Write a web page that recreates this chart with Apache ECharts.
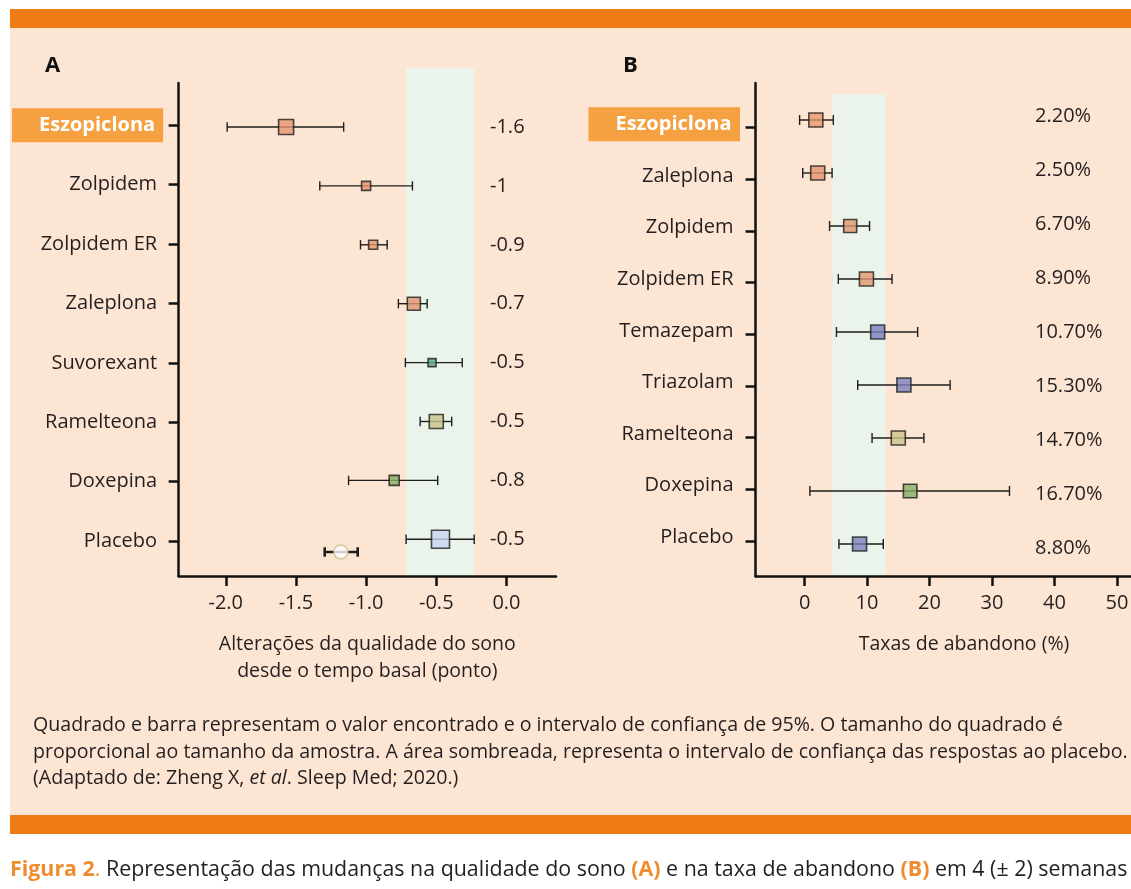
<!DOCTYPE html>
<html><head><meta charset="utf-8">
<script src="https://cdn.jsdelivr.net/npm/echarts@6/dist/echarts.min.js"></script>
<style>
html,body{margin:0;padding:0;background:#fff;overflow:hidden;width:1131px;height:889px}
.blk{position:absolute}
.txt{position:absolute;font-family:'Open Sans',sans-serif;color:#231F20;white-space:nowrap}
</style></head>
<body>
<div class="blk" style="left:10px;top:9px;width:1121px;height:19px;background:#EF7B17"></div>
<div class="blk" style="left:10px;top:28px;width:1121px;height:787px;background:#FDE5D3"></div>
<div class="blk" style="left:10px;top:815px;width:1121px;height:19px;background:#EF7B17"></div>
<div id="chart" style="position:absolute;left:0;top:0;width:1131px;height:889px"></div>
<div class="txt" style="left:33px;top:711px;font-size:19.6px;line-height:26.5px">Quadrado e barra representam o valor encontrado e o intervalo de confiança de 95%. O tamanho do quadrado é<br>proporcional ao tamanho da amostra. A área sombreada, representa o intervalo de confiança das respostas ao placebo.<br>(Adaptado de: Zheng X, <i>et al</i>. Sleep Med; 2020.)</div>
<div class="txt" style="left:10px;top:853px;width:1121px;overflow:hidden;font-size:21.4px;line-height:30px"><b style="color:#F08C2E">Figura 2</b><span style="color:#F08C2E">.</span> Representação das mudanças na qualidade do sono <b style="color:#F08C2E">(A)</b> e na taxa de abandono <b style="color:#F08C2E">(B)</b> em 4 (± 2) semanas</div>
<script>
// ---------- DATA ----------
// Panel A: changes in sleep quality from baseline (points)
const catsA = ['Eszopiclona','Zolpidem','Zolpidem ER','Zaleplona','Suvorexant','Ramelteona','Doxepina','Placebo'];
const estA = [-1.57, -1.00, -0.95, -0.66, -0.53, -0.50, -0.80, -0.47];
const loA  = [-1.99, -1.33, -1.04, -0.77, -0.72, -0.615, -1.125, -0.715];
const hiA  = [-1.16, -0.67, -0.85, -0.565, -0.315, -0.39, -0.49, -0.23];
const sampleSizeA = [15, 9, 9, 13, 8, 14, 10, 18];
const valueLabelsA = ['-1.6','-1','-0.9','-0.7','-0.5','-0.5','-0.8','-0.5'];
const placeboBasalA = [-1.18, -1.295, -1.06]; // estimate, low, high
const bandA = [-0.715, -0.23];
const xTicksA = [-2.0, -1.5, -1.0, -0.5, 0.0];

// Panel B: dropout rates (%)
const catsB = ['Eszopiclona','Zaleplona','Zolpidem','Zolpidem ER','Temazepam','Triazolam','Ramelteona','Doxepina','Placebo'];
const estB = [1.8, 2.1, 7.3, 9.9, 11.7, 15.9, 15.0, 16.9, 8.8];
const loB  = [-0.8, -0.3, 4.0, 5.4, 5.1, 8.5, 10.8, 0.85, 5.5];
const hiB  = [4.6, 4.4, 10.4, 14.0, 18.1, 23.3, 19.1, 32.8, 12.6];
const sampleSizeB = [14, 14, 13, 14, 14, 14, 14, 13.5, 14];
const valueLabelsB = ['2.20%','2.50%','6.70%','8.90%','10.70%','15.30%','14.70%','16.70%','8.80%'];
const bandB = [4.5, 12.9];
const xTicksB = [0, 10, 20, 30, 40, 50];

const highlight = 'Eszopiclona';

// ---------- STYLE ----------
const FONT = "'Open Sans', sans-serif";
const INK = '#231F20';
const BAND = '#EBF4EA';
const C = {sal:'#E5966F', blue:'#7B7FBE', olive:'#CBC389', green:'#84AE66', teal:'#5FA98C', lblue:'#C9D5F0'};
const colorsA = [C.sal, C.sal, C.sal, C.sal, C.teal, C.olive, C.green, C.lblue];
const colorsB = [C.sal, C.sal, C.sal, C.sal, C.blue, C.blue, C.olive, C.green, C.blue];

const chart = echarts.init(document.getElementById('chart'), null, {renderer:'canvas'});

function idxArr(n){ return Array.from({length:n}, (_, i) => i); }

function catLabel(cats, padRight, outerPad){
  return {
    show:true, margin:15.5, fontSize:20, color:INK, fontFamily:FONT, padding:outerPad,
    customValues: idxArr(cats.length),
    formatter: v => { const n = cats[Math.round(v)]; return n === highlight ? '{hl|' + n + '}' : '{n|' + n + '}'; },
    rich:{
      n:{fontSize:20, color:INK, fontFamily:FONT, padding:[0, padRight, 0, 0]},
      hl:{fontSize:20, fontWeight:'bold', color:'#fff', fontFamily:FONT, backgroundColor:'#F5A142', lineHeight:23, padding:[7, padRight + 2, 7, 27]}
    }
  };
}

function errRender(capH, lw){
  return function(params, api){
    const lo = api.coord([api.value(0), api.value(2)]);
    const hi = api.coord([api.value(1), api.value(2)]);
    const w = api.value(3) || lw;
    const st = {stroke:'#1E1E1E', lineWidth:w};
    return {type:'group', children:[
      {type:'line', shape:{x1:lo[0], y1:lo[1], x2:hi[0], y2:hi[1]}, style:st},
      {type:'line', shape:{x1:lo[0], y1:lo[1]-capH, x2:lo[0], y2:lo[1]+capH}, style:st},
      {type:'line', shape:{x1:hi[0], y1:hi[1]-capH, x2:hi[0], y2:hi[1]+capH}, style:st}
    ]};
  };
}
function bandRender(params, api){
  const x0 = api.coord([api.value(0), 0.5])[0];
  const x1 = api.coord([api.value(1), 0.5])[0];
  const cs = params.coordSys;
  return {type:'rect', shape:{x:x0, y:cs.y, width:x1 - x0, height:cs.height}, style:{fill:BAND}};
}

const axisLineStyle = {color:'#111', width:2.5};
const PLACEBO_SUBROW = 0.215;

const option = {
  animation:false,
  backgroundColor:'transparent',
  textStyle:{fontFamily:FONT},
  title:[
    {text:'A', left:45, top:55, padding:0, textStyle:{fontSize:22, fontWeight:'bold', color:'#111', fontFamily:FONT}},
    {text:'B', left:623, top:55, padding:0, textStyle:{fontSize:22, fontWeight:'bold', color:'#111', fontFamily:FONT}}
  ],
  grid:[
    {left:178.6, top:68, width:377.4, height:508, outerBoundsMode:'none', containLabel:false},
    {left:178.6, top:83, width:377.4, height:493, outerBoundsMode:'none', containLabel:false},
    {left:755.5, top:94, width:417, height:482, outerBoundsMode:'none', containLabel:false},
    {left:755.5, top:83, width:417, height:493, outerBoundsMode:'none', containLabel:false}
  ],
  xAxis:[
    {gridIndex:0, type:'value', min:-2.336, max:0.353, show:false},
    {gridIndex:1, type:'value', min:-2.336, max:0.353,
      axisLine:{show:true, onZero:false, lineStyle:axisLineStyle},
      axisTick:{show:true, length:10, lineStyle:{color:'#111', width:2.5}, customValues:xTicksA},
      axisLabel:{show:true, margin:17, fontSize:20, color:INK, fontFamily:FONT, customValues:xTicksA, formatter:v => v.toFixed(1)},
      splitLine:{show:false},
      name:'Alterações da qualidade do sono\ndesde o tempo basal (ponto)', nameLocation:'middle', nameGap:55,
      nameTextStyle:{fontSize:19.5, lineHeight:27, color:INK, fontFamily:FONT}
    },
    {gridIndex:2, type:'value', min:-7.86, max:58.9, show:false},
    {gridIndex:3, type:'value', min:-7.86, max:58.9,
      axisLine:{show:true, onZero:false, lineStyle:axisLineStyle},
      axisTick:{show:true, length:10, lineStyle:{color:'#111', width:2.5}, customValues:xTicksB},
      axisLabel:{show:true, margin:17, fontSize:20, color:INK, fontFamily:FONT, customValues:xTicksB, formatter:v => String(v)},
      splitLine:{show:false},
      name:'Taxas de abandono (%)', nameLocation:'middle', nameGap:55,
      nameTextStyle:{fontSize:19.5, lineHeight:27, color:INK, fontFamily:FONT}
    }
  ],
  yAxis:[
    {gridIndex:0, type:'value', min:0, max:1, show:false},
    {gridIndex:1, type:'value', inverse:true, min:-0.712, max:7.588,
      axisLine:{show:true, onZero:false, lineStyle:axisLineStyle},
      axisTick:{show:true, length:10, lineStyle:{color:'#111', width:2.5}, customValues:idxArr(catsA.length)},
      axisLabel:catLabel(catsA, 6, 0),
      splitLine:{show:false}
    },
    {gridIndex:1, type:'value', inverse:true, min:-0.747, max:7.623, position:'left', offset:-311.4,
      axisLine:{show:false, onZero:false}, axisTick:{show:false}, splitLine:{show:false},
      axisLabel:{show:true, margin:0, align:'left', fontSize:20, color:INK, fontFamily:FONT,
        customValues:idxArr(valueLabelsA.length), formatter:v => valueLabelsA[Math.round(v)]}
    },
    {gridIndex:2, type:'value', min:0, max:1, show:false},
    {gridIndex:3, type:'value', inverse:true, min:-0.866, max:8.68,
      axisLine:{show:true, onZero:false, lineStyle:axisLineStyle},
      axisTick:{show:true, length:10, lineStyle:{color:'#111', width:2.5}, customValues:idxArr(catsB.length)},
      axisLabel:catLabel(catsB, 6.5, [0,0,7,0]),
      splitLine:{show:false}
    },
    {gridIndex:3, type:'value', inverse:true, min:-0.698, max:8.604, show:false},
    {gridIndex:3, type:'value', inverse:true, min:-0.61, max:8.503, position:'left', offset:-279.5,
      axisLine:{show:false, onZero:false}, axisTick:{show:false}, splitLine:{show:false},
      axisLabel:{show:true, margin:0, align:'left', fontSize:20, color:INK, fontFamily:FONT,
        customValues:idxArr(valueLabelsB.length), formatter:v => valueLabelsB[Math.round(v)]}
    }
  ],
  series:[
    // shaded placebo bands
    {type:'custom', xAxisIndex:0, yAxisIndex:0, z:0, silent:true, renderItem:bandRender,
      encode:{x:[0,1], y:2}, data:[[bandA[0], bandA[1], 0.5]]},
    {type:'custom', xAxisIndex:2, yAxisIndex:3, z:0, silent:true, renderItem:bandRender,
      encode:{x:[0,1], y:2}, data:[[bandB[0], bandB[1], 0.5]]},
    // Panel A error bars
    {type:'custom', xAxisIndex:1, yAxisIndex:2, z:2, renderItem:errRender(4.7, 1.4),
      encode:{x:[0,1], y:2}, data:catsA.map((c, i) => [loA[i], hiA[i], i, 0])},
    {type:'custom', xAxisIndex:1, yAxisIndex:2, z:2, renderItem:errRender(4.7, 1.4),
      encode:{x:[0,1], y:2}, data:[[placeboBasalA[1], placeboBasalA[2], catsA.length - 1 + PLACEBO_SUBROW, 2.6]]},
    // Panel A markers
    {type:'scatter', name:'A', xAxisIndex:1, yAxisIndex:2, z:3, symbol:'rect',
      data:catsA.map((c, i) => ({value:[estA[i], i], symbolSize:sampleSizeA[i],
        itemStyle:{color:colorsA[i], borderColor:'#1E1E1E', borderWidth:1.6}}))},
    {type:'scatter', name:'Placebo basal', xAxisIndex:1, yAxisIndex:2, z:3, symbol:'circle', symbolSize:14,
      data:[[placeboBasalA[0], catsA.length - 1 + PLACEBO_SUBROW]],
      itemStyle:{color:'#fff', borderColor:'#C9C08C', borderWidth:1.6}},
    // Panel B error bars
    {type:'custom', xAxisIndex:3, yAxisIndex:5, z:2, renderItem:errRender(5, 1.4),
      encode:{x:[0,1], y:2}, data:catsB.map((c, i) => [loB[i], hiB[i], i, 0])},
    // Panel B markers
    {type:'scatter', name:'B', xAxisIndex:3, yAxisIndex:5, z:3, symbol:'rect',
      data:catsB.map((c, i) => ({value:[estB[i], i], symbolSize:sampleSizeB[i],
        itemStyle:{color:colorsB[i], borderColor:'#1E1E1E', borderWidth:1.6}}))}
  ]
};
chart.setOption(option);
</script>
</body></html>
